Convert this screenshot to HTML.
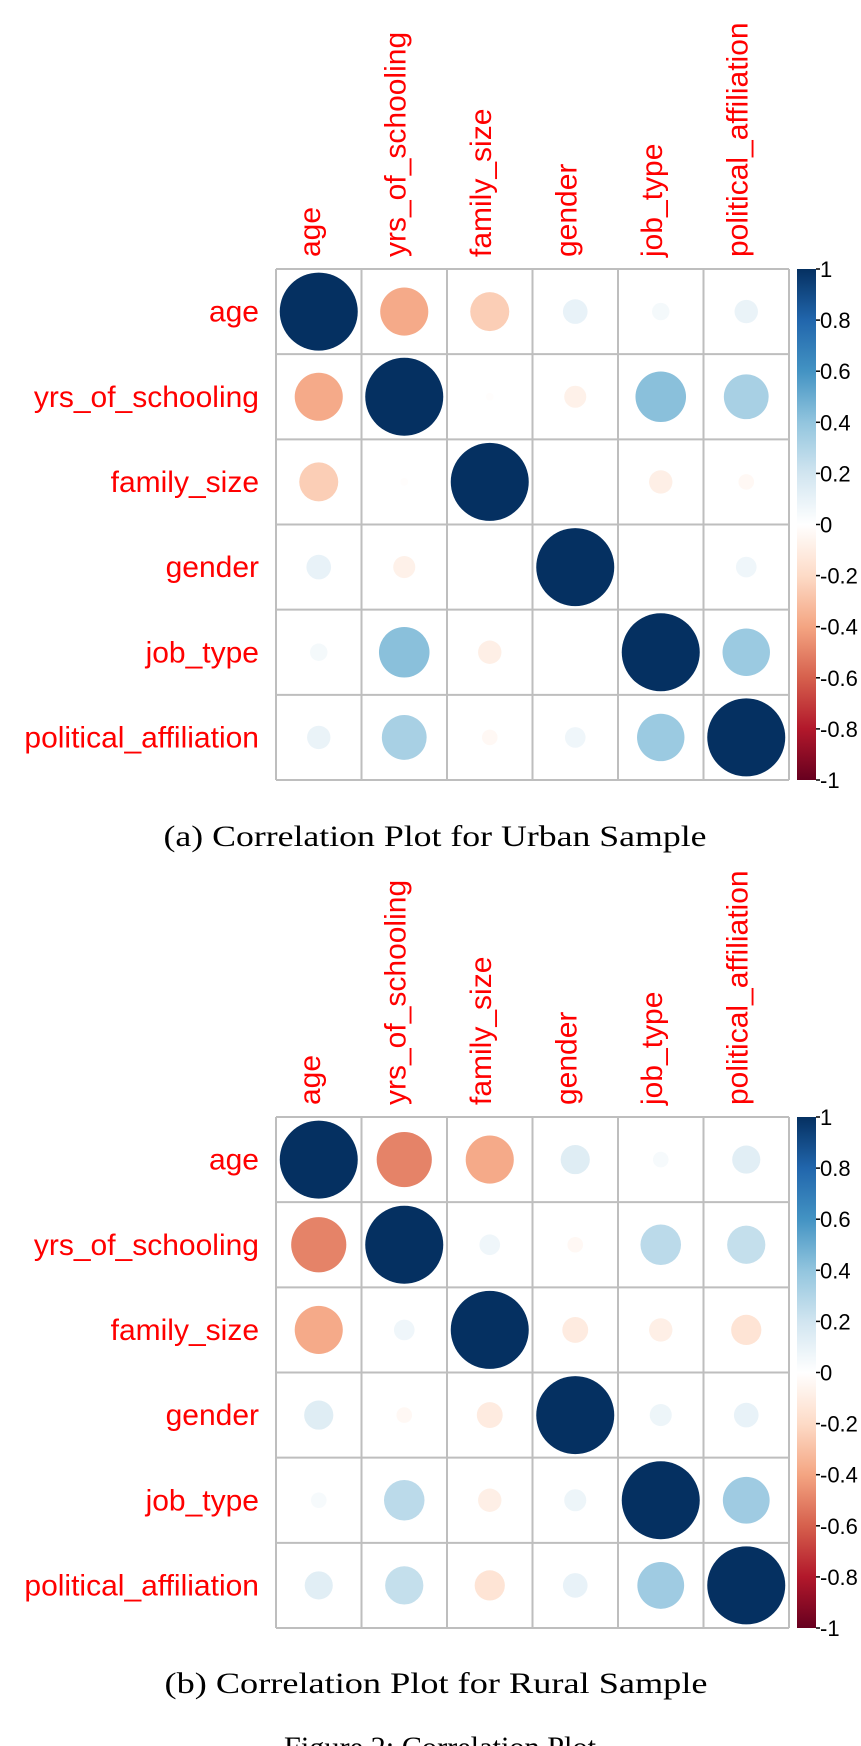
<!DOCTYPE html>
<html><head><meta charset="utf-8"><style>
html,body{margin:0;padding:0;background:#fff;}
svg{display:block;}
</style></head><body>
<svg id="fig" width="861" height="1746" viewBox="0 0 861 1746" xmlns="http://www.w3.org/2000/svg">
<defs>
<linearGradient id="cbgrad" x1="0" y1="0" x2="0" y2="1">
<stop offset="0" stop-color="#053061"/><stop offset="0.1" stop-color="#2166AC"/><stop offset="0.2" stop-color="#4393C3"/><stop offset="0.3" stop-color="#92C5DE"/><stop offset="0.4" stop-color="#D1E5F0"/><stop offset="0.5" stop-color="#FFFFFF"/><stop offset="0.6" stop-color="#FDDBC7"/><stop offset="0.7" stop-color="#F4A582"/><stop offset="0.8" stop-color="#D6604D"/><stop offset="0.9" stop-color="#B2182B"/><stop offset="1" stop-color="#67001F"/>
</linearGradient>
</defs>
<text x="435" y="846" text-anchor="middle" font-family="Liberation Serif, serif" font-size="30" textLength="543" lengthAdjust="spacingAndGlyphs">(a) Correlation Plot for Urban Sample</text>
<text x="436" y="1693" text-anchor="middle" font-family="Liberation Serif, serif" font-size="30" textLength="543" lengthAdjust="spacingAndGlyphs">(b) Correlation Plot for Rural Sample</text>
<text x="440" y="1757" text-anchor="middle" font-family="Liberation Serif, serif" font-size="30" textLength="312" lengthAdjust="spacingAndGlyphs">Figure 2: Correlation Plot</text>
</svg>
<script>
const variables = ["age","yrs_of_schooling","family_size","gender","job_type","political_affiliation"];
// upper-triangle pairs in order: (0,1),(0,2),(0,3),(0,4),(0,5),(1,2),(1,3),(1,4),(1,5),(2,3),(2,4),(2,5),(3,4),(3,5),(4,5)
const urbanPairs = [-0.38,-0.25,0.10,0.05,0.09,-0.01,-0.08,0.42,0.33,0.0,-0.09,-0.04,0.0,0.07,0.37];
const ruralPairs = [-0.5,-0.38,0.14,0.04,0.13,0.07,-0.04,0.27,0.24,-0.11,-0.09,-0.15,0.08,0.10,0.36];
const colorbarTicks = [1,0.8,0.6,0.4,0.2,0,-0.2,-0.4,-0.6,-0.8,-1];
const colorbarLabels = ["1","0.8","0.6","0.4","0.2","0","-0.2","-0.4","-0.6","-0.8","-1"];

const NS = "http://www.w3.org/2000/svg";
const svg = document.getElementById('fig');
const stops = ["#67001F","#B2182B","#D6604D","#F4A582","#FDDBC7","#FFFFFF","#D1E5F0","#92C5DE","#4393C3","#2166AC","#053061"];
function hex(h){return [parseInt(h.substr(1,2),16),parseInt(h.substr(3,2),16),parseInt(h.substr(5,2),16)];}
function colorOf(v){
  const t=(Math.max(-1,Math.min(1,v))+1)/2*10;
  const i=Math.min(9,Math.floor(t)), f=t-i;
  const a=hex(stops[i]), b=hex(stops[i+1]);
  return 'rgb('+a.map((c,k)=>Math.round(c+(b[k]-c)*f)).join(',')+')';
}
function mk(tag,attrs,parent){const e=document.createElementNS(NS,tag);for(const k in attrs)e.setAttribute(k,attrs[k]);(parent||svg).appendChild(e);return e;}
function matrixFrom(pairs){
  const n=variables.length, m=[];let p=0;
  for(let i=0;i<n;i++){m.push(new Array(n).fill(0));m[i][i]=1;}
  for(let i=0;i<n;i++)for(let j=i+1;j<n;j++){m[i][j]=pairs[p];m[j][i]=pairs[p];p++;}
  return m;
}
function drawPanel(name,pairs,top){
  const g=mk('g',{});
  
  
  const left=276, right=789, bottom=top+511, n=variables.length;
  const cw=(right-left)/n, ch=(bottom-top)/n;
  const xC=j=>left+cw*(j+0.5), yC=i=>top+ch*(i+0.5);
  const m=matrixFrom(pairs);
  const rmax=39;
  for(let i=0;i<n;i++)for(let j=0;j<n;j++){
    const v=m[i][j];
    if(Math.abs(v)<0.001)continue;
    const c=mk('circle',{cx:xC(j),cy:yC(i),r:rmax*Math.sqrt(Math.abs(v)),fill:colorOf(v)},g);
    
    
  }
  for(let k=0;k<=n;k++){
    const vl=mk('line',{x1:left+cw*k,y1:top,x2:left+cw*k,y2:bottom,stroke:'#BEBEBE','stroke-width':2},g);
    
    
    const hl=mk('line',{x1:left,y1:top+ch*k,x2:right,y2:top+ch*k,stroke:'#BEBEBE','stroke-width':2},g);
    
    
  }
  for(let i=0;i<n;i++){
    const t=mk('text',{x:259,y:yC(i)+10,'text-anchor':'end','font-family':'Liberation Sans, sans-serif','font-size':30,fill:'#FF0000'},g);
    t.textContent=variables[i];
    
    
    const x=xC(i)+1, y=top-12;
    const tc=mk('text',{x:x,y:y,transform:'rotate(-90 '+x+' '+y+')','font-family':'Liberation Sans, sans-serif','font-size':30,fill:'#FF0000'},g);
    tc.textContent=variables[i];
    
    
  }
  const cbx=797, cbw=19;
  const cb=mk('rect',{x:cbx,y:top,width:cbw,height:bottom-top,fill:'url(#cbgrad)'},g);
  
  
  const yS=v=>top+(1-v)/2*(bottom-top);
  colorbarTicks.forEach((v,k)=>{
    const y=yS(v);
    const tl=mk('line',{x1:cbx+cbw,y1:y,x2:cbx+cbw+4,y2:y,stroke:'#000','stroke-width':1.5},g);
    
    
    const tt=mk('text',{x:cbx+cbw+4,y:y+8,'font-family':'Liberation Sans, sans-serif','font-size':22,fill:'#000'},g);
    tt.textContent=colorbarLabels[k];
    
    
  });
}
drawPanel('urban',urbanPairs,269);
drawPanel('rural',ruralPairs,1117);
</script>
</body></html>
